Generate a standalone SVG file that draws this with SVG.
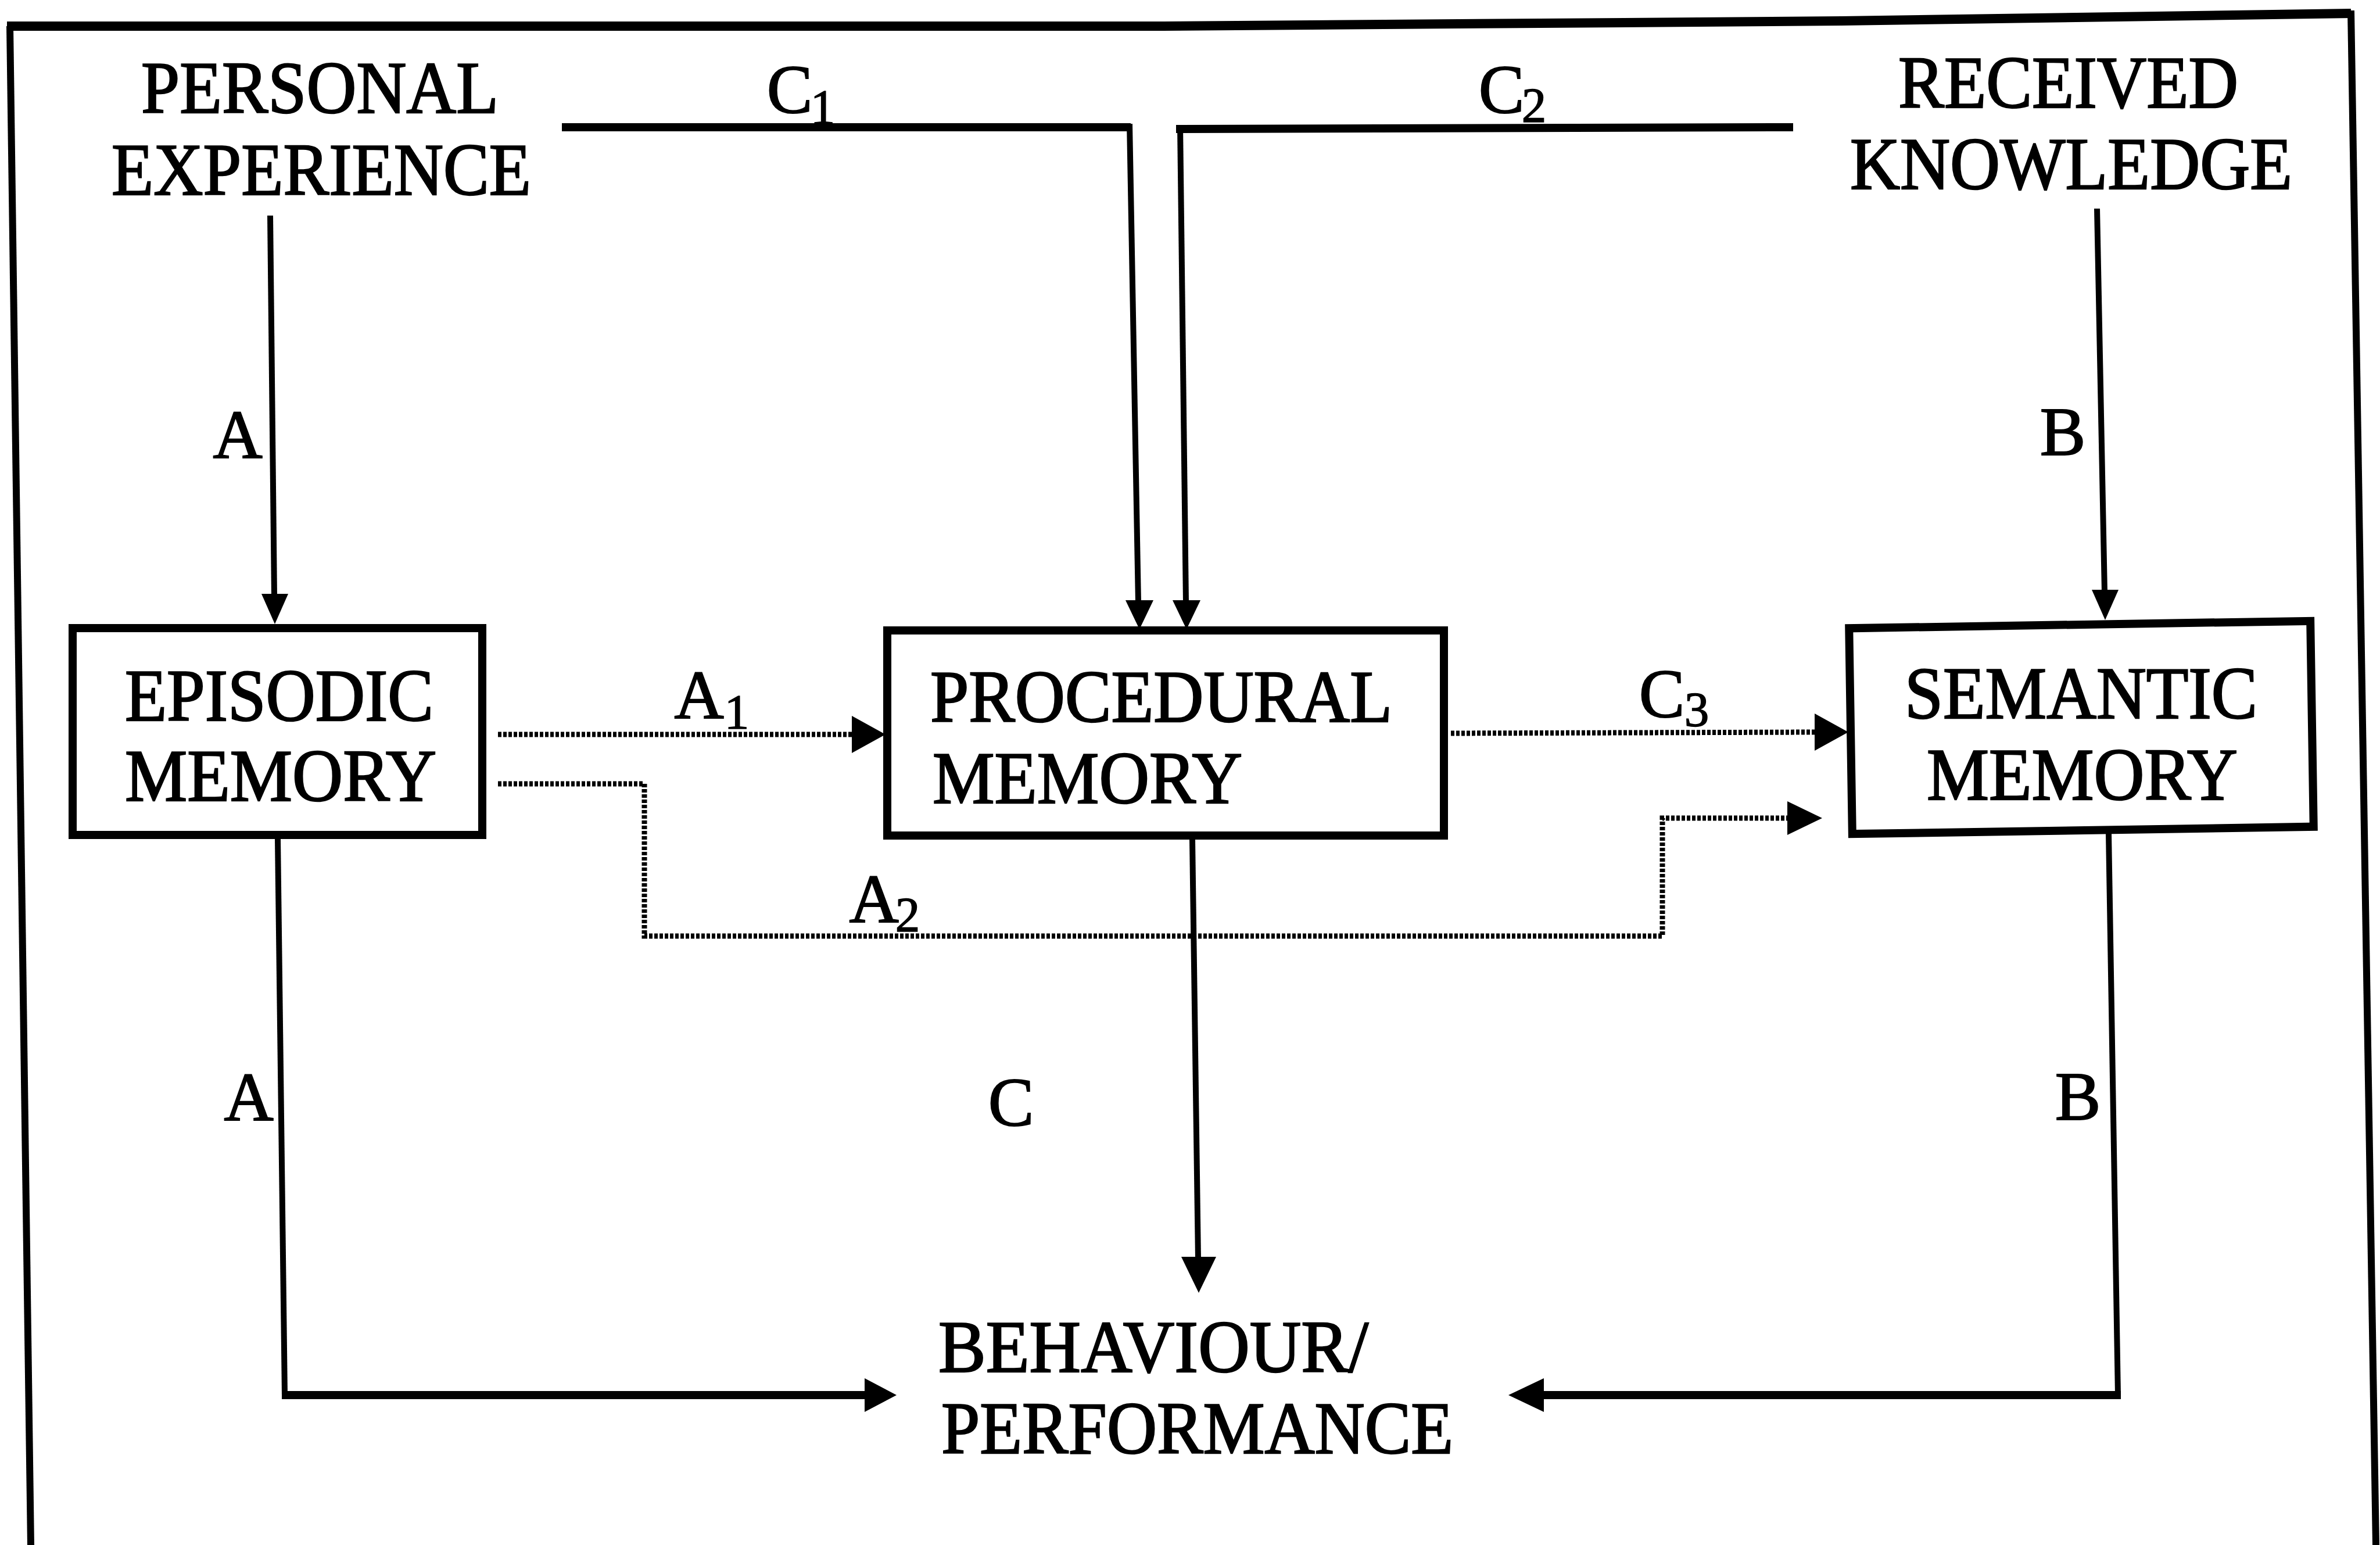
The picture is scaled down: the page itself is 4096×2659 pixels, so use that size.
<svg xmlns="http://www.w3.org/2000/svg" width="4096" height="2659" viewBox="0 0 4096 2659">
<style>
  .t { font-family: "Liberation Serif", "Times New Roman", serif; font-size: 126px; fill: #000; stroke: #000; stroke-width: 2.5; }
  .lb { font-family: "Liberation Serif", "Times New Roman", serif; font-size: 118px; fill: #000; stroke: #000; stroke-width: 2; text-anchor: middle; }
  .sb { font-family: "Liberation Serif", "Times New Roman", serif; font-size: 85px; fill: #000; stroke: #000; stroke-width: 1.5; text-anchor: middle; }
  .box { fill: #fff; stroke: #000; stroke-width: 14; }
  .ln { fill: none; stroke: #000; stroke-width: 10; stroke-linejoin: miter; }
  .lnt { fill: none; stroke: #000; stroke-width: 14; }
  .dt { fill: none; stroke: #000; stroke-width: 9; stroke-dasharray: 6 3; }
  .ah { fill: #000; stroke: none; }
  .frame { fill: none; stroke: #000; stroke-width: 12; }
</style>
<rect x="0" y="0" width="4096" height="2659" fill="#fff"/>

<g id="frame">
  <path class="frame" d="M53,2659 L17,45"/>
  <path class="frame" style="stroke-width:16" d="M12,45 L2002,45 L3169,36 L4046,23"/>
  <path class="frame" d="M4046,18 L4089,2659"/>
</g>

<g id="connectors">
  <g id="pe-episodic">
    <path class="ln" d="M465,371 L472,1026"/>
    <polygon class="ah" points="450,1022 496,1022 473,1074"/>
  </g>
  <g id="rk-semantic">
    <path class="ln" d="M3609,359 L3622,1019"/>
    <polygon class="ah" points="3600,1015 3646,1015 3623,1067"/>
  </g>
  <g id="c1">
    <path class="lnt" d="M967,219 H1946"/>
    <path class="ln" d="M1944,213 L1959,1037"/>
    <polygon class="ah" points="1937,1033 1985,1033 1961,1083"/>
  </g>
  <g id="c2">
    <path class="lnt" d="M3086,219 L2024,222"/>
    <path class="ln" d="M2031,216 L2041,1037"/>
    <polygon class="ah" points="2018,1033 2066,1033 2042,1083"/>
  </g>
  <g id="a1">
    <path class="dt" d="M857,1264 H1466"/>
    <polygon class="ah" points="1466,1232 1524,1264 1466,1296"/>
  </g>
  <g id="c3">
    <path class="dt" d="M2497,1262 L3123,1260"/>
    <polygon class="ah" points="3123,1228 3181,1260 3123,1292"/>
  </g>
  <g id="a2">
    <path class="dt" d="M857,1349 H1109 V1611 H2861 V1408 H3078"/>
    <polygon class="ah" points="3076,1379 3136,1408 3076,1437"/>
  </g>
  <g id="episodic-behaviour">
    <path class="ln" d="M478,1444 L490,2401"/>
    <path class="lnt" d="M485,2401 H1492"/>
    <polygon class="ah" points="1488,2372 1543,2401 1488,2430"/>
  </g>
  <g id="procedural-behaviour">
    <path class="ln" d="M2052,1445 L2062,2167"/>
    <polygon class="ah" points="2033,2163 2093,2163 2063,2225"/>
  </g>
  <g id="semantic-behaviour">
    <path class="ln" d="M3629,1434 L3645,2401"/>
    <path class="lnt" d="M3650,2401 H2654"/>
    <polygon class="ah" points="2657,2372 2596,2401 2657,2430"/>
  </g>
</g>

<g id="personal-experience">
  <text class="t" x="243" y="194" textLength="615" lengthAdjust="spacingAndGlyphs">PERSONAL</text>
  <text class="t" x="192" y="335" textLength="722" lengthAdjust="spacingAndGlyphs">EXPERIENCE</text>
</g>
<g id="received-knowledge">
  <text class="t" x="3267" y="185" textLength="585" lengthAdjust="spacingAndGlyphs">RECEIVED</text>
  <text class="t" x="3184" y="325" textLength="761" lengthAdjust="spacingAndGlyphs">KNOWLEDGE</text>
</g>
<g id="episodic-memory">
  <rect class="box" x="125" y="1081" width="705" height="356"/>
  <text class="t" x="215" y="1240" textLength="531" lengthAdjust="spacingAndGlyphs">EPISODIC</text>
  <text class="t" x="215" y="1378" textLength="536" lengthAdjust="spacingAndGlyphs">MEMORY</text>
</g>
<g id="procedural-memory">
  <rect class="box" x="1527" y="1085" width="958" height="353"/>
  <text class="t" x="1601" y="1242" textLength="795" lengthAdjust="spacingAndGlyphs">PROCEDURAL</text>
  <text class="t" x="1605" y="1382" textLength="533" lengthAdjust="spacingAndGlyphs">MEMORY</text>
</g>
<g id="semantic-memory">
  <rect class="box" x="3185" y="1075" width="794" height="354" transform="rotate(-0.9 3582 1252)"/>
  <text class="t" x="3278" y="1236" textLength="607" lengthAdjust="spacingAndGlyphs">SEMANTIC</text>
  <text class="t" x="3316" y="1376" textLength="535" lengthAdjust="spacingAndGlyphs">MEMORY</text>
</g>
<g id="behaviour-performance">
  <text class="t" x="1615" y="2361" textLength="740" lengthAdjust="spacingAndGlyphs">BEHAVIOUR/</text>
  <text class="t" x="1620" y="2501" textLength="881" lengthAdjust="spacingAndGlyphs">PERFORMANCE</text>
</g>

<g id="labels">
  <text class="lb" x="409" y="788">A</text>
  <text class="lb" x="3550" y="783">B</text>
  <text class="lb" x="1359" y="194">C</text><text class="sb" x="1416" y="213">1</text>
  <text class="lb" x="2584" y="194">C</text><text class="sb" x="2640" y="210">2</text>
  <text class="lb" x="1203" y="1236">A</text><text class="sb" x="1268" y="1254">1</text>
  <text class="lb" x="1504" y="1587">A</text><text class="sb" x="1562" y="1603">2</text>
  <text class="lb" x="2860" y="1234">C</text><text class="sb" x="2920" y="1250">3</text>
  <text class="lb" x="428" y="1928">A</text>
  <text class="lb" x="1740" y="1937">C</text>
  <text class="lb" x="3576" y="1927">B</text>
</g>
</svg>
